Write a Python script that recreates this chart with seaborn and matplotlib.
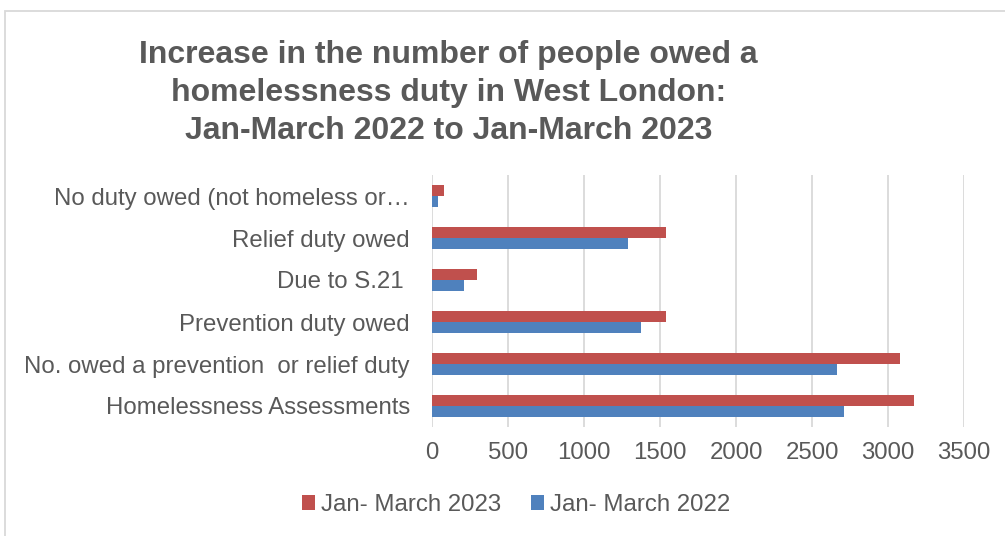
import matplotlib
matplotlib.use("Agg")
import matplotlib.pyplot as plt
from matplotlib.patches import Rectangle
import seaborn as sns
import pandas as pd

categories = [
    "No duty owed (not homeless or…",
    "Relief duty owed",
    "Due to S.21 ",
    "Prevention duty owed",
    "No. owed a prevention  or relief duty",
    "Homelessness Assessments",
]
series_names = ["Jan- March 2023", "Jan- March 2022"]
values_2023 = [79, 1540, 298, 1540, 3080, 3168]
values_2022 = [40, 1287, 211, 1373, 2667, 2713]
x_ticks = [0, 500, 1000, 1500, 2000, 2500, 3000, 3500]
title = ("Increase in the number of people owed a\n"
         "homelessness duty in West London:\n"
         "Jan-March 2022 to Jan-March 2023")

colors = {"Jan- March 2023": "#C0504D", "Jan- March 2022": "#4F81BD"}
text_color = "#595959"
grid_color = "#D9D9D9"

df = pd.DataFrame({
    "category": categories * 2,
    "series": [series_names[0]] * len(categories) + [series_names[1]] * len(categories),
    "value": values_2023 + values_2022,
})

sns.set_theme(style="white")
plt.rcParams["font.family"] = ["Liberation Sans", "DejaVu Sans"]

fig = plt.figure(figsize=(10.05, 5.36), dpi=100)
ax = fig.add_axes([432 / 1005, 1 - 427 / 536, (964 - 432) / 1005, (427 - 175) / 536])

sns.barplot(data=df, y="category", x="value", hue="series", order=categories,
            hue_order=series_names, palette=colors, orient="h", width=0.52,
            gap=0, saturation=1, linewidth=0, ax=ax)

ax.set_xlim(0, 3500)
ax.set_ylim(len(categories) - 0.5, -0.5)
ax.set_xticks(x_ticks)
ax.set_xticklabels([str(t) for t in x_ticks])
ax.set_xlabel("")
ax.set_ylabel("")
ax.grid(axis="x", color=grid_color, linewidth=1.3)
ax.grid(axis="y", visible=False)
ax.set_axisbelow(True)
for side in ["top", "right", "bottom", "left"]:
    ax.spines[side].set_visible(False)
ax.tick_params(axis="x", length=0, pad=11, labelsize=17.3, labelcolor=text_color)
ax.tick_params(axis="y", length=0, pad=16, labelsize=17.3, labelcolor=text_color)

# legend below the plot, 2023 first
handles, labels = ax.get_legend_handles_labels()
ax.get_legend().remove()
fig.legend(handles, labels, loc="center", bbox_to_anchor=(516 / 1005, 1 - 505 / 536),
           ncol=2, frameon=False, fontsize=17.3, labelcolor=text_color,
           handlelength=0.55, handleheight=0.55, handletextpad=0.25,
           columnspacing=1.25)

fig.text(448.5 / 1005, 1 - 40 / 536, title, ha="center", va="top",
         fontsize=23, fontweight="bold", color=text_color, linespacing=1.34)

# chart frame
fig.patches.append(Rectangle((4.5 / 1005, -0.1), 1.2, 1.1 - 11.5 / 536,
                             transform=fig.transFigure, fill=False,
                             edgecolor=grid_color, linewidth=1.3))

fig.savefig("out.png", dpi=100, facecolor="white")
